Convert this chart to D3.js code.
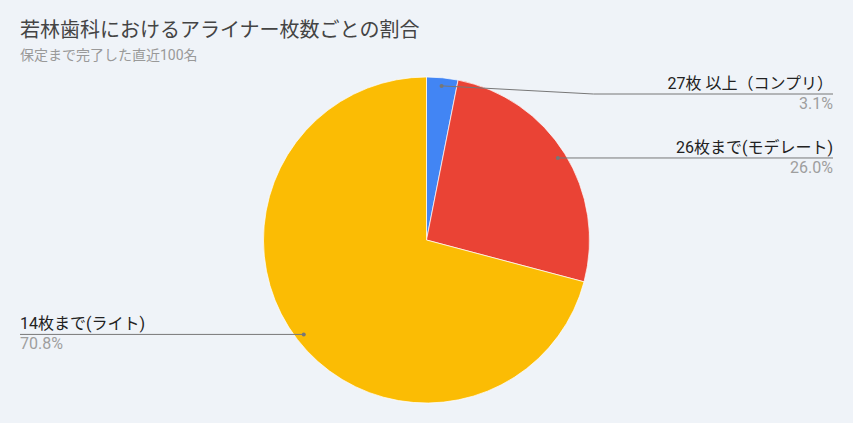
<!DOCTYPE html>
<html>
<head>
<meta charset="UTF-8">
<title>アライナー枚数ごとの割合</title>
<style>
  html, body { margin: 0; padding: 0; background: #eff3f8; }
  svg { display: block; font-family: Roboto, "Noto Sans CJK JP", sans-serif; }
</style>
</head>
<body>
<script src="https://d3js.org/d3.v7.min.js"></script>
<script>
// データ
var categories = ["27枚 以上（コンプリ）", "26枚まで(モデレート)", "14枚まで(ライト)"]
var shares = [3.1, 26.0, 70.8] // 割合(%)
var colors = ["#4285f4", "#ea4335", "#fbbc04"]

var width = 853
var height = 423
var cx = 426.5, cy = 240, radius = 163
var labelLeft = 20, labelRight = 833

var svg = d3.select("body").append("svg")
  .attr("width", width)
  .attr("height", height)

svg.append("rect").attr("width", width).attr("height", height).attr("fill", "#eff3f8")

// タイトル
svg.append("text")
  .attr("x", 20).attr("y", 37)
  .attr("font-size", 20).attr("fill", "#444")
  .text("若林歯科におけるアライナー枚数ごとの割合")
svg.append("text")
  .attr("x", 20).attr("y", 60)
  .attr("font-size", 14).attr("fill", "#999")
  .text("保定まで完了した直近100名")

var pie = d3.pie().sort(null).value(function(d){ return d })
var arcs = pie(shares)

var arc = d3.arc().innerRadius(0).outerRadius(radius)
var dotArc = d3.arc().innerRadius(radius * 0.95).outerRadius(radius * 0.95)

var g = svg.append("g").attr("transform", "translate(" + cx + "," + cy + ")")

g.selectAll("path").data(arcs).enter().append("path")
  .attr("d", arc)
  .attr("fill", function(d,i){ return colors[i] })
  .attr("stroke", "#fff")
  .attr("stroke-width", 0.7)

// ラベル位置 (右側は上から、最低位置あり)
var minY = -radius + 17
var labels = arcs.map(function(d,i){
  var p = dotArc.centroid(d)
  var mid = (d.startAngle + d.endAngle) / 2
  var right = mid < Math.PI
  return { i: i, x: p[0], y: p[1], right: right, ly: Math.max(p[1], minY) }
})

var lg = svg.append("g").attr("transform", "translate(" + cx + "," + cy + ")")

labels.forEach(function(l){
  var edgeX = l.right ? radius + 4 : -radius - 4
  var endX = l.right ? labelRight - cx : labelLeft - cx
  var pts = [[l.x, l.y]]
  if (Math.abs(l.ly - l.y) > 0.5) pts.push([edgeX, l.ly])
  pts.push([endX, l.ly])
  lg.append("path")
    .attr("d", d3.line()(pts))
    .attr("fill", "none")
    .attr("stroke", "#777")
    .attr("stroke-width", 1)
  lg.append("circle")
    .attr("cx", l.x).attr("cy", l.y).attr("r", 2)
    .attr("fill", "#777")
  var anchor = l.right ? "end" : "start"
  lg.append("text")
    .attr("x", endX).attr("y", l.ly - 5)
    .attr("text-anchor", anchor)
    .attr("font-size", 16).attr("fill", "#222")
    .text(categories[l.i])
  lg.append("text")
    .attr("x", endX).attr("y", l.ly + 15)
    .attr("text-anchor", anchor)
    .attr("font-size", 16).attr("fill", "#9e9e9e")
    .text(shares[l.i].toFixed(1) + "%")
})
</script>
</body>
</html>
